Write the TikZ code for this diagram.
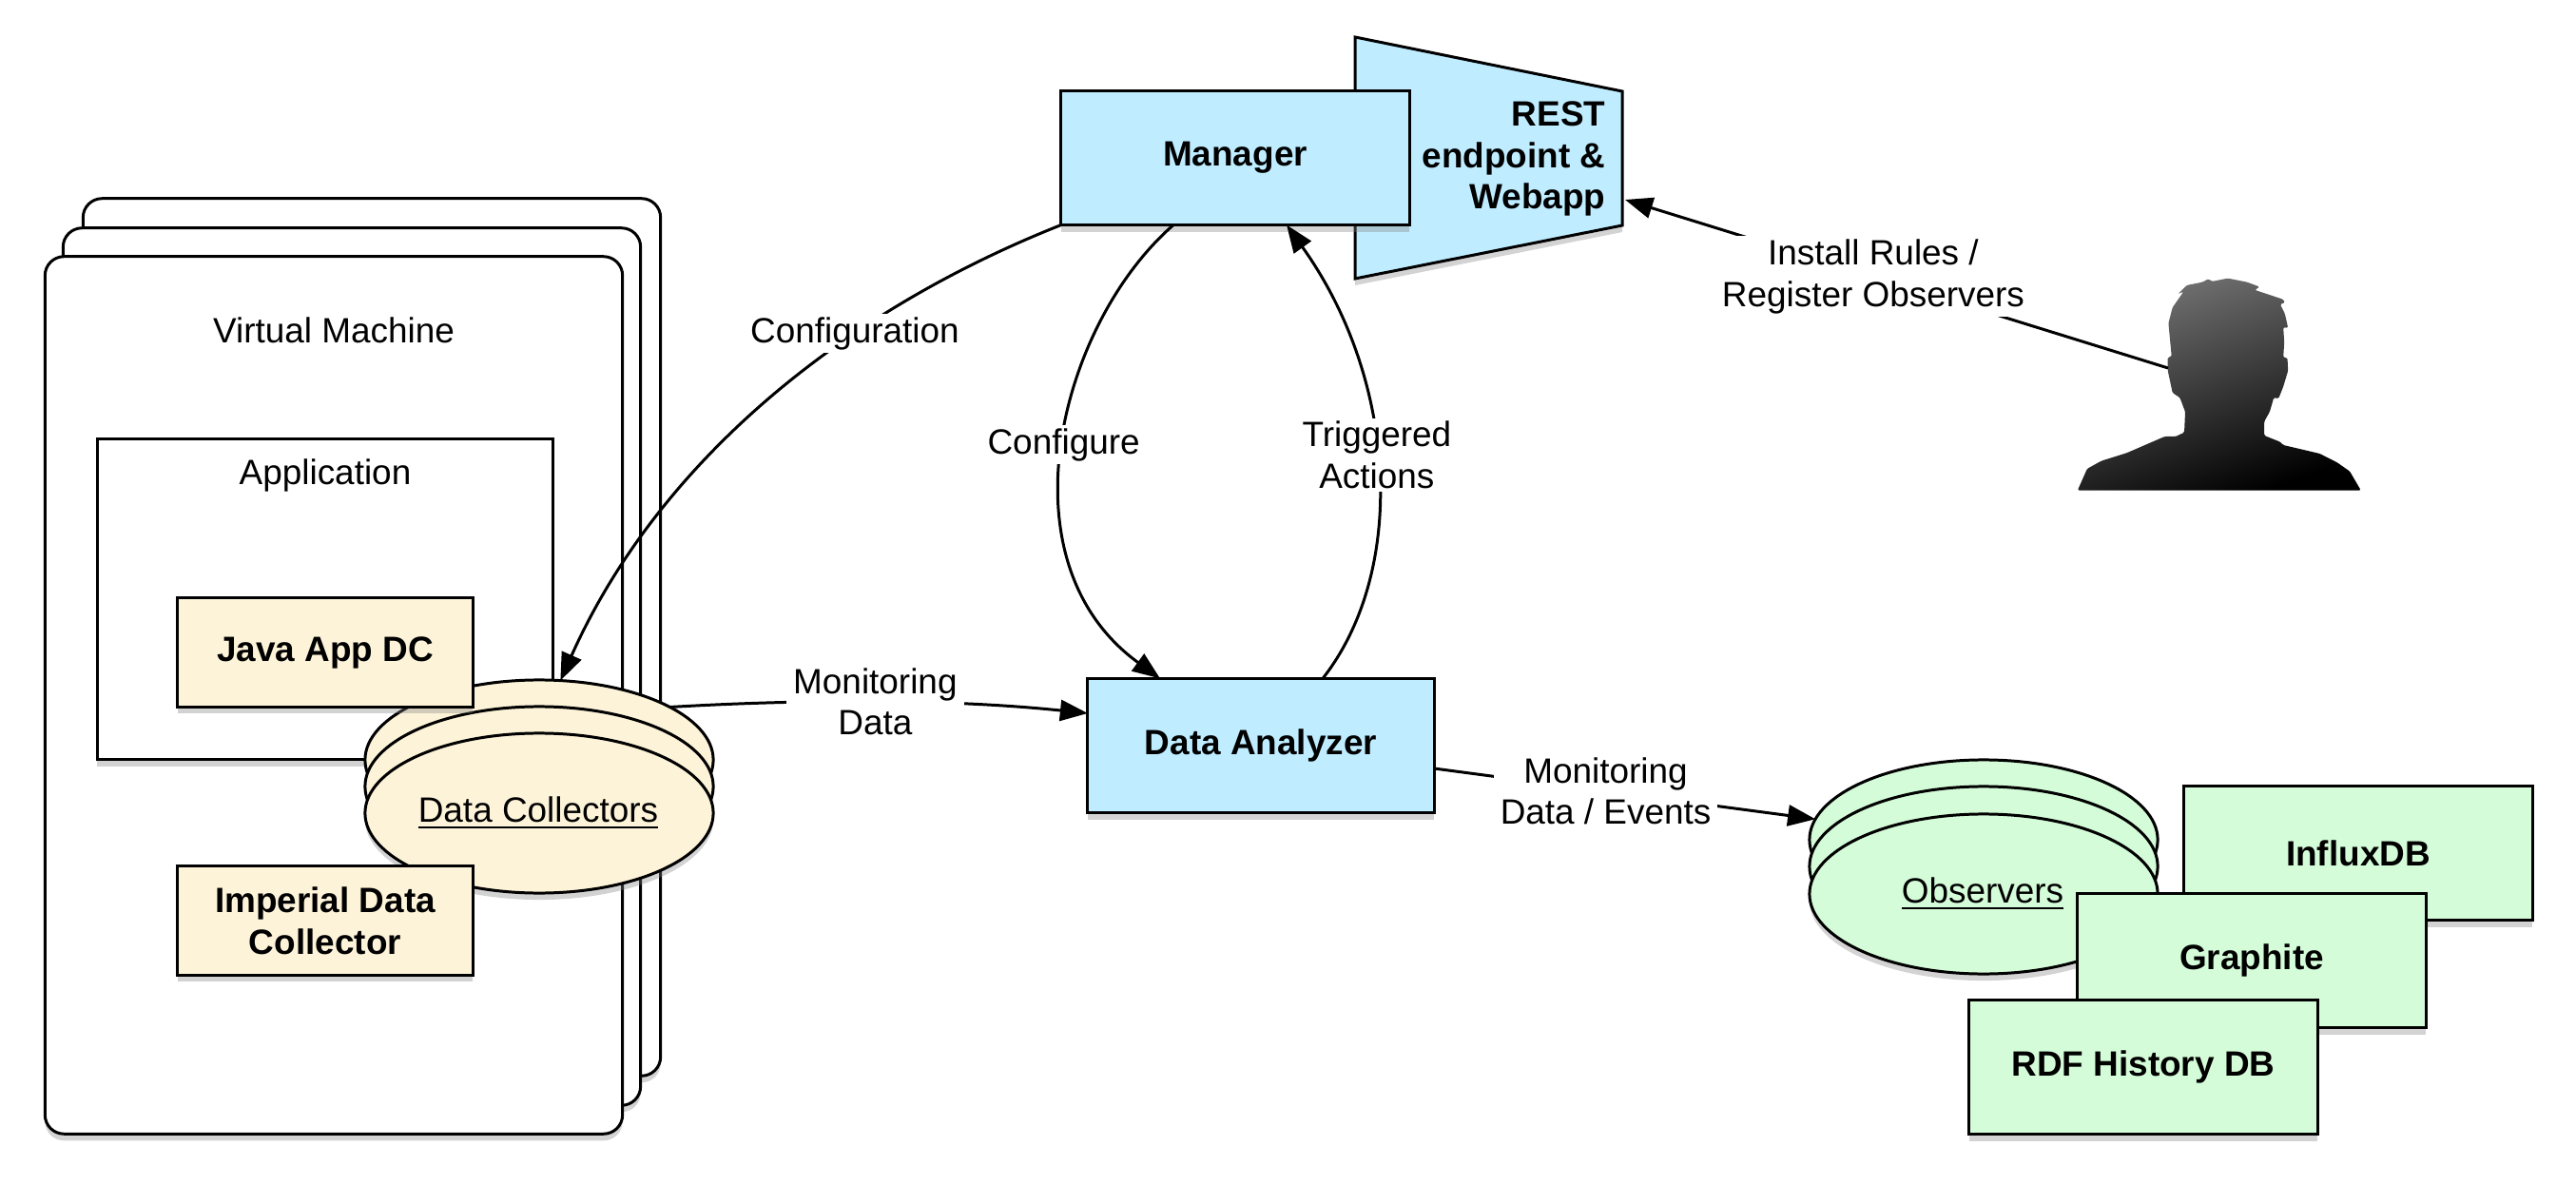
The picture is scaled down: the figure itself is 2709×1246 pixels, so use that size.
\documentclass[tikz,border=0pt]{standalone}
\usepackage{fontspec}
\setmainfont{Liberation Sans}
\usepackage[]{xcolor}
\usetikzlibrary{arrows.meta, positioning, shapes.geometric, shadows}
\definecolor{boxblue}{RGB}{191,237,255}
\definecolor{boxcream}{RGB}{253,243,217}
\definecolor{boxgreen}{RGB}{212,252,216}
\tikzset{
		plain text/.style={font=\fontsize{10.5}{12.4}\selectfont, align=center, inner sep=0pt},
		bold text/.style={font=\fontsize{10.5}{12.4}\selectfont\bfseries, align=center, inner sep=0pt},
		line text/.style={plain text, fill=white, inner xsep=2pt, inner ysep=1pt},
		soft shadow/.style={drop shadow={shadow xshift=0pt, shadow yshift=-2pt, opacity=.35}},
		drawn/.style={draw, line width=.85pt, outer sep=0pt, inner sep=0pt},
		vm box/.style={drawn, fill=white, rounded corners=.2cm, minimum width=6.07cm, minimum height=9.22cm, soft shadow},
		app box/.style={drawn, fill=white, minimum width=4.79cm, minimum height=3.37cm, soft shadow},
		dc box/.style={drawn, bold text, fill=boxcream, minimum width=3.1cm, minimum height=1.14cm, soft shadow},
		main box/.style={drawn, bold text, fill=boxblue, minimum height=1.41cm, soft shadow},
		db box/.style={drawn, bold text, fill=boxgreen, minimum width=3.66cm, minimum height=1.41cm, soft shadow},
		stack/.style={drawn, ellipse, minimum width=3.66cm, minimum height=1.68cm, soft shadow},
		flow/.style={->, line width=.85pt}
	}

\begin{document}
\begin{tikzpicture}[x=.01cm, y=-.01cm, >={Triangle[length=.29cm, width=.22cm]}]
				\useasboundingbox (0,0) rectangle (2709,1246);

				% virtual machines
				\node[vm box]   (vm3)  at (391,670) {};
				\node[vm box]   (vm2)  at (370,701) {};
				\node[vm box]   (vm1)  at (351,731) {};
				\node[plain text] (vmlabel) at (351,347) {Virtual Machine};
				\node[app box]  (app)  at (342,630) {};
				\node[plain text] (applabel) at (342,500) {Application};

				% data collectors
				\node[stack, fill=boxcream] (dc3) at (567,799) {};
				\node[stack, fill=boxcream] (dc2) at (567,827) {};
				\node[stack, fill=boxcream] (dc1) at (567,855) {};
				\node[plain text] (dclabel) at (566,855) {\underline{Data Collectors}};
				\node[dc box]   (java) at (342,686) {Java App DC};
				\node[dc box]   (imp)  at (342,968) {Imperial Data\\Collector};

				% manager and analyzer
				\draw[drawn, fill=boxblue, soft shadow] (1425,39) -- (1706,96) -- (1706,237) -- (1425,293) -- cycle;
				\node[bold text, align=right, anchor=east] (rest) at (1689,167) {REST\\endpoint \&\\Webapp};
				\coordinate (restport) at (1709,210);
				\node[main box, minimum width=3.66cm] (manager)  at (1299,166) {Manager};
				\node[main box, minimum width=3.64cm] (analyzer) at (1326,784) {Data Analyzer};

				% observers
				\node[stack, fill=boxgreen] (ob3) at (2086,883) {};
				\node[stack, fill=boxgreen] (ob2) at (2086,911) {};
				\node[stack, fill=boxgreen] (ob1) at (2086,940) {};
				\node[plain text] (oblabel) at (2085,940) {\underline{Observers}};
				\node[db box]   (influx)   at (2480,897)  {InfluxDB};
				\node[db box]   (graphite) at (2368,1010) {Graphite};
				\node[db box]   (rdf)      at (2254,1122) {RDF History DB};

				% user
				\begin{scope}[shift={(2100,250)}, x=.00333cm, y=-.00333cm]
				\shade[top color=black!55, bottom color=black, shading angle=20, rounded corners=.4pt]
					(255,798) -- (285,730) -- (330,705) -- (410,680) -- (530,628) -- (565,628) -- (592,615)
					-- (595,550) -- (578,505) -- (555,490) -- (540,420) -- (540,378) -- (552,375) -- (542,270)
					-- (555,220) -- (590,170) -- (572,178) -- (600,150) -- (650,140) -- (668,130) -- (680,138)
					-- (730,128) -- (790,140) -- (830,155) -- (815,165) -- (905,195) -- (910,205) -- (895,210)
					-- (910,240) -- (920,285) -- (905,283) -- (908,330) -- (905,378) -- (918,380) -- (920,420)
					-- (905,470) -- (890,508) -- (875,505) -- (862,550) -- (845,580) -- (845,625) -- (895,645)
					-- (905,655) -- (1020,682) -- (1075,710) -- (1115,738) -- (1150,798) -- cycle;
				\end{scope}
				\coordinate (user) at (2280,387);

				% connectors
				\draw[flow] (manager.south west) .. controls (880,330) and (690,490) .. (dc3.75)
					node[line text, pos=.33] (conflabel) {Configuration};
				\draw[flow] (manager.south -| 1234,0) .. controls (1115,340) and (1050,590) .. (analyzer.north -| 1220,0)
					node[line text, pos=.5] (cfglabel) {Configure};
				\draw[flow] (analyzer.north -| 1391,0) .. controls (1480,600) and (1470,400) .. (manager.south -| 1353,0)
					node[line text, pos=.53] (triglabel) {Triggered\\Actions};
				\draw[flow] (dc3.22) .. controls (850,735) and (1000,735) .. (analyzer.west |- 0,750)
					node[line text, pos=.49] (datalabel) {Monitoring\\Data};
				\draw[flow] (analyzer.east |- 0,808) -- (ob3.173)
					node[line text, pos=.45] (eventlabel) {Monitoring\\Data / Events};
				\draw[flow] (user) -- (restport)
					node[line text, pos=.543] (rulelabel) {Install Rules /\\Register Observers};
			\end{tikzpicture}
\end{document}
